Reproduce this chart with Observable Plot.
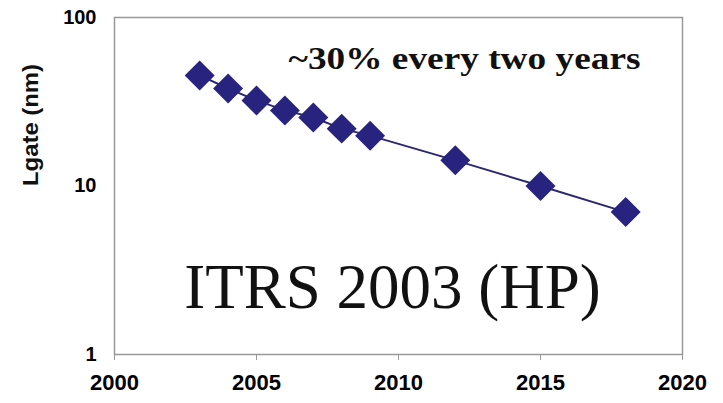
<!DOCTYPE html>
<html>
<head>
<meta charset="utf-8">
<script src="https://cdn.jsdelivr.net/npm/d3@7"></script>
<script src="https://cdn.jsdelivr.net/npm/@observablehq/plot@0.6"></script>
<style>
  html, body { margin: 0; padding: 0; background: #fff; }
  #chart svg { display: block; }
</style>
</head>
<body>
<div id="chart"></div>
<script>
const years = [2003, 2004, 2005, 2006, 2007, 2008, 2009, 2012, 2015, 2018];
const lgate = [45.3, 37.9, 32.2, 28.1, 25.5, 21.9, 19.9, 14.2, 10.0, 7.0];
const xTicks = [2000, 2005, 2010, 2015, 2020];
const yTicks = [1, 10, 100];
const yLabel = "Lgate (nm)";
const noteText = "~30% every two years";
const titleText = "ITRS 2003 (HP)";

const data = years.map((y, i) => ({year: y, lgate: lgate[i]}));
const navy = "#28237e";

const chart = Plot.plot({
  width: 723,
  height: 403,
  marginLeft: 114,
  marginRight: 41,
  marginTop: 17,
  marginBottom: 49,
  style: {background: "#fff", color: "#000", fontFamily: "'Liberation Sans', Arial, sans-serif"},
  x: {domain: [2000, 2020]},
  y: {type: "log", domain: [1, 100]},
  marks: [
    Plot.frame({stroke: "#999", strokeWidth: 1.5}),
    Plot.axisX({ticks: xTicks, tickFormat: d => String(d), tickSize: 6, tickPadding: 14,
      fontSize: 22, fontWeight: "bold", stroke: "#999", label: null}),
    Plot.axisY({ticks: yTicks, tickFormat: d => String(d), tickSize: 0, tickPadding: 18,
      fontSize: 20, fontWeight: "bold", label: null}),
    Plot.line(data, {x: "year", y: "lgate", stroke: "#2b2870", strokeWidth: 2}),
    Plot.dot(data, {x: "year", y: "lgate", symbol: "diamond2", r: 13.5, fill: navy, stroke: null}),
    Plot.text([noteText], {frameAnchor: "top", dx: 66, dy: 51, lineAnchor: "bottom",
      fontFamily: "'Liberation Serif', 'Times New Roman', serif", fontWeight: "bold", fontSize: 31, fill: "#111"}),
    Plot.text([titleText], {frameAnchor: "bottom", dx: -6, dy: -47, lineAnchor: "bottom",
      fontFamily: "'Liberation Serif', 'Times New Roman', serif", fontSize: 63, fill: "#111"}),
    Plot.text([yLabel], {frameAnchor: "left", dx: -84, rotate: -90,
      fontWeight: "bold", fontSize: 22, fill: "#111"})
  ]
});

d3.select(chart).selectAll("text").each(function() {
  if (this.textContent === noteText) {
    d3.select(this).attr("textLength", 352).attr("lengthAdjust", "spacingAndGlyphs");
  }
  if (this.textContent === yLabel) {
    d3.select(this).style("font-size", "22px").attr("textLength", 122).attr("lengthAdjust", "spacingAndGlyphs");
  }
});

document.getElementById("chart").appendChild(chart);
</script>
</body>
</html>
